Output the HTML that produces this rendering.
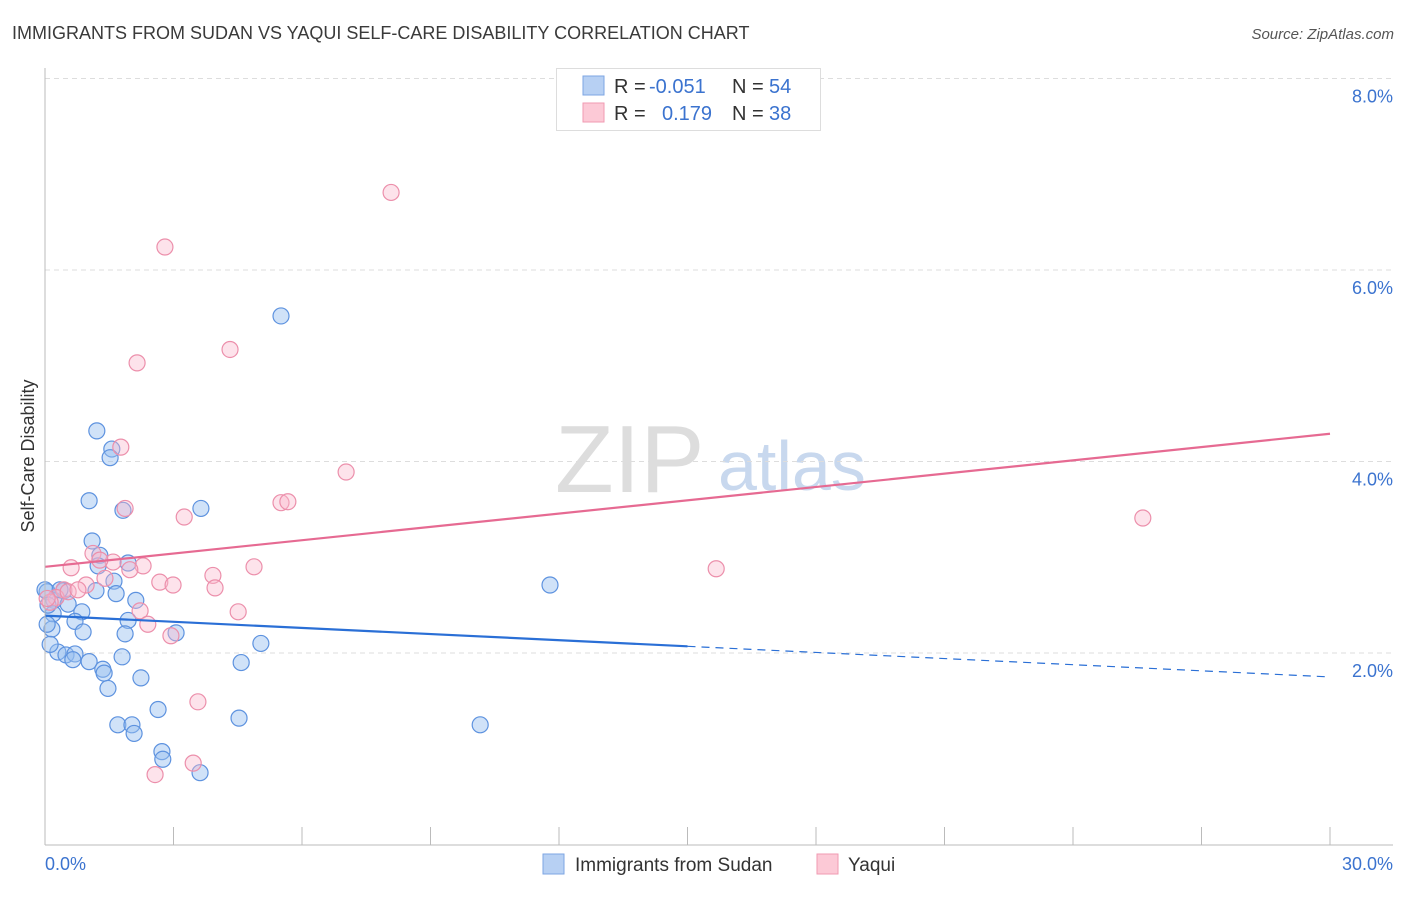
<!DOCTYPE html>
<html><head><meta charset="utf-8"><style>
body{margin:0;background:#fff;font-family:"Liberation Sans",sans-serif}
svg text{font-family:"Liberation Sans",sans-serif}
</style></head><body>
<svg id="c" width="1406" height="892" xmlns="http://www.w3.org/2000/svg">
<text x="12" y="39" font-size="18" fill="#3a3a3a">IMMIGRANTS FROM SUDAN VS YAQUI SELF-CARE DISABILITY CORRELATION CHART</text>
<text x="1394" y="39" font-size="15" fill="#555" font-style="italic" text-anchor="end">Source: ZipAtlas.com</text>
<text x="34" y="456" font-size="18" fill="#333" text-anchor="middle" transform="rotate(-90 34 456)">Self-Care Disability</text>
<text x="555" y="492" font-size="96" fill="#ddd" font-family="Liberation Serif">ZIP</text>
<text x="718" y="490" font-size="70" fill="#c8d8ee">atlas</text>
<g id="grid"></g><g id="pts"></g><g id="lines"></g>
<line x1="45" y1="68" x2="45" y2="845" stroke="#bbb"/>
<line x1="45" y1="845" x2="1393" y2="845" stroke="#bbb"/>
<text x="45" y="870" font-size="18" fill="#3b73cf">0.0%</text>
<text x="1393" y="870" font-size="18" fill="#3b73cf" text-anchor="end">30.0%</text>
<g>
<rect x="556.5" y="68.5" width="264" height="62" fill="#fff" stroke="#ddd"/>
<rect x="583" y="76" width="21" height="19" fill="#b7d0f3" stroke="#7ea6e3"/>
<rect x="583" y="103" width="21" height="19" fill="#fcc9d6" stroke="#f09ab2"/>
<text x="614" y="93" font-size="20" fill="#333">R =</text><text x="649" y="93" font-size="20" fill="#3b73cf">-0.051</text>
<text x="732" y="93" font-size="20" fill="#333">N =</text><text x="769" y="93" font-size="20" fill="#3b73cf">54</text>
<text x="614" y="120" font-size="20" fill="#333">R =</text><text x="662" y="120" font-size="20" fill="#3b73cf">0.179</text>
<text x="732" y="120" font-size="20" fill="#333">N =</text><text x="769" y="120" font-size="20" fill="#3b73cf">38</text>
</g>
<g>
<rect x="543" y="854" width="21" height="20" fill="#b7d0f3" stroke="#7ea6e3"/>
<text x="575" y="871" font-size="19" fill="#333">Immigrants from Sudan</text>
<rect x="817" y="854" width="21" height="20" fill="#fcc9d6" stroke="#f09ab2"/>
<text x="848" y="871" font-size="19" fill="#333">Yaqui</text>
</g>
</svg>
<script>
const yTicks=[2,4,6,8];
const yTickLabels=["2.0%","4.0%","6.0%","8.0%"];
const xTicks=[0,3,6,9,12,15,18,21,24,27,30];
const sudanX=[5.51,1.21,1.56,1.52,1.03,3.64,1.82,1.10,1.28,1.94,1.24,1.61,0.44,1.19,1.66,2.12,0.05,0.21,0.54,0.86,0.19,0.70,1.94,0.89,1.87,3.06,0.16,5.04,0.30,0.49,0.70,0.65,1.03,1.80,1.35,1.38,4.58,1.47,2.24,2.64,1.70,2.03,2.08,4.53,2.73,2.75,3.62,10.16,11.79,0.05,0.12,0.35,0.00,0.07];
const sudanY=[5.52,4.32,4.13,4.04,3.59,3.51,3.49,3.17,3.02,2.94,2.91,2.75,2.65,2.65,2.62,2.55,2.64,2.55,2.51,2.43,2.41,2.33,2.34,2.22,2.20,2.21,2.25,2.10,2.01,1.98,1.99,1.93,1.91,1.96,1.83,1.79,1.90,1.63,1.74,1.41,1.25,1.25,1.16,1.32,0.97,0.89,0.75,1.25,2.71,2.30,2.09,2.66,2.66,2.50];
const yaquiX=[8.08,2.80,4.32,2.15,1.77,7.03,1.87,3.25,5.51,5.67,2.29,1.12,1.59,1.98,0.61,2.68,2.99,3.92,3.97,0.96,1.40,0.44,0.26,0.12,4.51,2.22,2.40,2.94,3.57,3.46,2.57,4.88,15.67,25.63,0.54,0.77,0.05,1.28];
const yaquiY=[6.81,6.24,5.17,5.03,4.15,3.89,3.51,3.42,3.57,3.58,2.91,3.04,2.95,2.87,2.89,2.74,2.71,2.81,2.68,2.71,2.78,2.66,2.58,2.53,2.43,2.44,2.30,2.18,1.49,0.85,0.73,2.90,2.88,3.41,2.64,2.66,2.57,2.97];
const sudanTrend=[2.39,1.75];
const yaquiTrend=[2.90,4.29];
const sudanSolidEnd=15;
const NS="http://www.w3.org/2000/svg";
const X=v=>45+v/30*1285;
const Y=v=>844.5-v*95.75;
function mk(t,a,p){const e=document.createElementNS(NS,t);for(const k in a)e.setAttribute(k,a[k]);p.appendChild(e);return e;}
const grid=document.getElementById('grid'),pts=document.getElementById('pts'),lines=document.getElementById('lines'),svg=document.getElementById('c');
yTicks.forEach((t,i)=>{
 const l=mk('line',{x1:45,x2:1393,y1:Y(t),y2:Y(t),stroke:'#ddd','stroke-dasharray':'5,4'},grid);
 
 
 const tx=mk('text',{x:1393,y:Y(t)+24,'font-size':18,fill:'#3b73cf','text-anchor':'end'},svg);
 tx.textContent=yTickLabels[i];
 
 
});
xTicks.forEach(t=>{
 const l=mk('line',{x1:X(t),x2:X(t),y1:827,y2:845,stroke:'#bbb'},grid);
 
 
});
sudanX.forEach((x,i)=>{
 const c=mk('circle',{cx:X(x),cy:Y(sudanY[i]),r:8,fill:'rgba(150,190,240,0.45)',stroke:'#5d92df','stroke-width':1.2},pts);
 
 
});
yaquiX.forEach((x,i)=>{
 const c=mk('circle',{cx:X(x),cy:Y(yaquiY[i]),r:8,fill:'rgba(250,185,205,0.4)',stroke:'#ec8fab','stroke-width':1.2},pts);
 
 
});
const sy=x=>sudanTrend[0]+(sudanTrend[1]-sudanTrend[0])*x/30;
let l1=mk('line',{x1:X(0),y1:Y(sy(0)),x2:X(sudanSolidEnd),y2:Y(sy(sudanSolidEnd)),stroke:'#2a6fd6','stroke-width':2.2},lines);


let l2=mk('line',{x1:X(sudanSolidEnd),y1:Y(sy(sudanSolidEnd)),x2:X(30),y2:Y(sy(30)),stroke:'#2a6fd6','stroke-width':1.2,'stroke-dasharray':'8,6'},lines);


let l3=mk('line',{x1:X(0),y1:Y(yaquiTrend[0]),x2:X(30),y2:Y(yaquiTrend[1]),stroke:'#e66a92','stroke-width':2.2},lines);


</script>
</body></html>
